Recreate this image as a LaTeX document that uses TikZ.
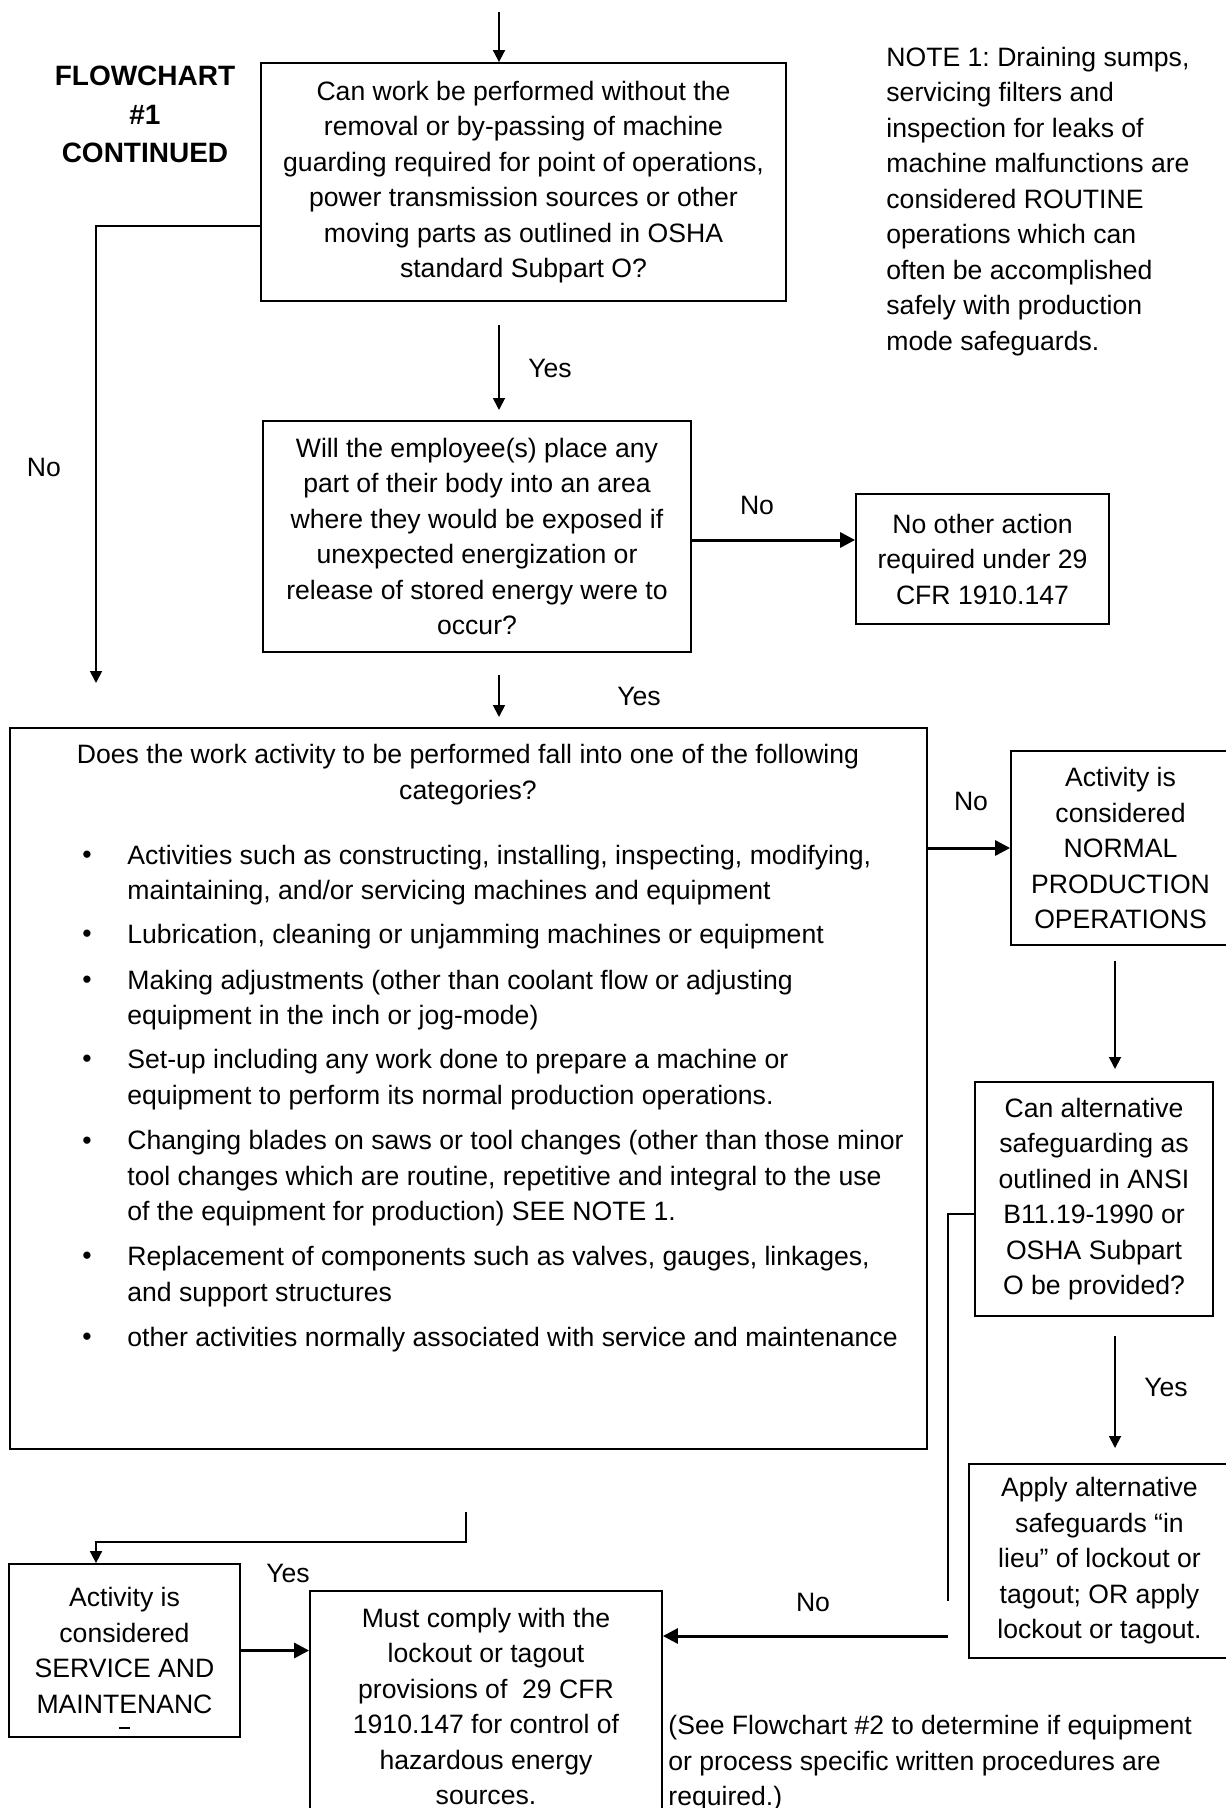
\documentclass[tikz,border=0pt]{standalone}
\usepackage{fontspec}
\setmainfont{Liberation Sans}
\usetikzlibrary{arrows.meta,calc}
\frenchspacing
\begin{document}
\begin{tikzpicture}[x=0.5pt,y=-0.5pt,
  box/.style={draw,line width=0.9pt,align=center,inner sep=0pt,font=\fontsize{13.3}{17.75}\selectfont},
  txt/.style={inner sep=0pt,font=\fontsize{13.3}{17.75}\selectfont},
  thinarrow/.style={line width=0.9pt,-{Triangle[length=6pt,width=6pt]}},
  thickarrow/.style={line width=1.5pt,-{Triangle[length=7.5pt,width=7.5pt]}},
  plainline/.style={line width=0.9pt}]
\useasboundingbox (0,0) rectangle (1225,1808);

% boxes
\node[box,minimum width=262.5pt,minimum height=119pt] (box1) at (523.5,182)
 {Can work be performed without the\\removal or by-passing of machine\\guarding required for point of operations,\\power transmission sources or other\\moving parts as outlined in OSHA\\standard Subpart O?};
\node[box,minimum width=214pt,minimum height=115.5pt] (box2) at (477,536.5)
 {Will the employee(s) place any\\part of their body into an area\\where they would be exposed if\\unexpected energization or\\release of stored energy were to\\occur?};
\node[box,minimum width=126.5pt,minimum height=65pt] (box3) at (982.5,559)
 {No other action\\required under 29\\CFR 1910.147};
\node[box,minimum width=458.5pt,minimum height=360.5pt] (box4) at (468.5,1088.5) {};
\node[box,minimum width=109.5pt,minimum height=97pt] (box5) at (1120.5,848)
 {Activity is\\considered\\NORMAL\\PRODUCTION\\OPERATIONS};
\node[box,minimum width=119pt,minimum height=117pt] (box6) at (1094,1199)
 {Can alternative\\safeguarding as\\outlined in ANSI\\B11.19-1990 or\\OSHA Subpart\\O be provided?};
\node[box,minimum width=130.5pt,minimum height=97pt] (box7) at (1099.5,1561)
 {Apply alternative\\safeguards “in\\lieu” of lockout or\\tagout; OR apply\\lockout or tagout.};
\node[box,minimum width=176pt,minimum height=115.5pt] (box8) at (486,1706.5)
 {Must comply with the\\lockout or tagout\\provisions of \ 29 CFR\\1910.147 for control of\\hazardous energy\\sources.};
\node[box,minimum width=115.5pt,minimum height=86.5pt] (box9) at (124.5,1650.5)
 {Activity is\\considered\\SERVICE AND\\MAINTENANC};
\draw[plainline] (119,1728) -- (130,1728);

% box4 contents
\node[txt,align=center] (head) at (468,774.5)
 {Does the work activity to be performed fall into one of the following\\categories?};
\node[txt] (b1) at (87,857.5) {•};
\node[txt,align=left,anchor=west] (i1) at (127,875)
 {Activities such as constructing, installing, inspecting, modifying,\\maintaining, and/or servicing machines and equipment};
\node[txt] (b2) at (87,936.5) {•};
\node[txt,align=left,anchor=west] (i2) at (127,936.5)
 {Lubrication, cleaning or unjamming machines or equipment};
\node[txt] (b3) at (87,982.5) {•};
\node[txt,align=left,anchor=west] (i3) at (127,1000)
 {Making adjustments (other than coolant flow or adjusting\\equipment in the inch or jog-mode)};
\node[txt] (b4) at (87,1061.5) {•};
\node[txt,align=left,anchor=west] (i4) at (127,1079.5)
 {Set-up including any work done to prepare a machine or\\equipment to perform its normal production operations.};
\node[txt] (b5) at (87,1143.5) {•};
\node[txt,align=left,anchor=west] (i5) at (127,1178.5)
 {Changing blades on saws or tool changes (other than those minor\\tool changes which are routine, repetitive and integral to the use\\of the equipment for production) SEE NOTE 1.};
\node[txt] (b6) at (87,1258.5) {•};
\node[txt,align=left,anchor=west] (i6) at (127,1276.5)
 {Replacement of components such as valves, gauges, linkages,\\and support structures};
\node[txt] (b7) at (87,1339.5) {•};
\node[txt,align=left,anchor=west] (i7) at (127,1339.5)
 {other activities normally associated with service and maintenance};

% free texts
\node[inner sep=0pt,align=center,font=\fontsize{14}{19.25}\selectfont\bfseries] (title) at (145,114.5)
 {FLOWCHART\\\#1\\CONTINUED};
\node[txt,align=left,anchor=west] (note) at (886,201.5)
 {NOTE 1: Draining sumps,\\servicing filters and\\inspection for leaks of\\machine malfunctions are\\considered ROUTINE\\operations which can\\often be accomplished\\safely with production\\mode safeguards.};
\node[txt,align=left,anchor=west] (see) at (668,1763.5)
 {(See Flowchart \#2 to determine if equipment\\or process specific written procedures are\\required.)};

% labels
\node[txt] (lyes1) at (550,368) {Yes};
\node[txt] (lno1) at (44,467) {No};
\node[txt] (lno2) at (757,505) {No};
\node[txt] (lyes2) at (639,696) {Yes};
\node[txt] (lno3) at (971,801) {No};
\node[txt] (lyes3) at (1166,1387) {Yes};
\node[txt] (lno4) at (813,1602) {No};
\node[txt] (lyes4) at (288,1573) {Yes};

% connectors
\coordinate (a0) at (499,12);
\draw[thinarrow] (a0) -- (a0 |- box1.north);
\coordinate (y1a) at (499,325); \coordinate (y1b) at (499,410);
\draw[thinarrow] (y1a) -- (y1b);
\coordinate (n1b) at (96,683);
\draw[thinarrow] ($(box1.north west)+(0,164)$) -| (n1b);
\coordinate (hb) at (0,540);
\draw[thickarrow] (box2.east |- hb) -- (box3.west |- hb);
\coordinate (y2a) at (499,675); \coordinate (y2b) at (499,717);
\draw[thinarrow] (y2a) -- (y2b);
\draw[thickarrow] (box4.east |- box5.west) -- (box5.west);
\coordinate (d5a) at (1115,961); \coordinate (d5b) at (1115,1069);
\draw[thinarrow] (d5a) -- (d5b);
\coordinate (d6a) at (1115,1336); \coordinate (d6b) at (1115,1448);
\draw[thinarrow] (d6a) -- (d6b);
\coordinate (n6b) at (948,1601);
\draw[plainline] ($(box6.north west)+(0,133)$) -| (n6b);
\coordinate (n7a) at (948,1636);
\draw[thickarrow] (n7a) -- (n7a -| box8.east);
\coordinate (s1) at (466,1512); \coordinate (s2) at (96,1542);
\draw[thinarrow] (s1) |- (s2) -- (s2 |- box9.north);
\draw[thickarrow] (box9.east) -- (box9.east -| box8.west);
\end{tikzpicture}
\end{document}
